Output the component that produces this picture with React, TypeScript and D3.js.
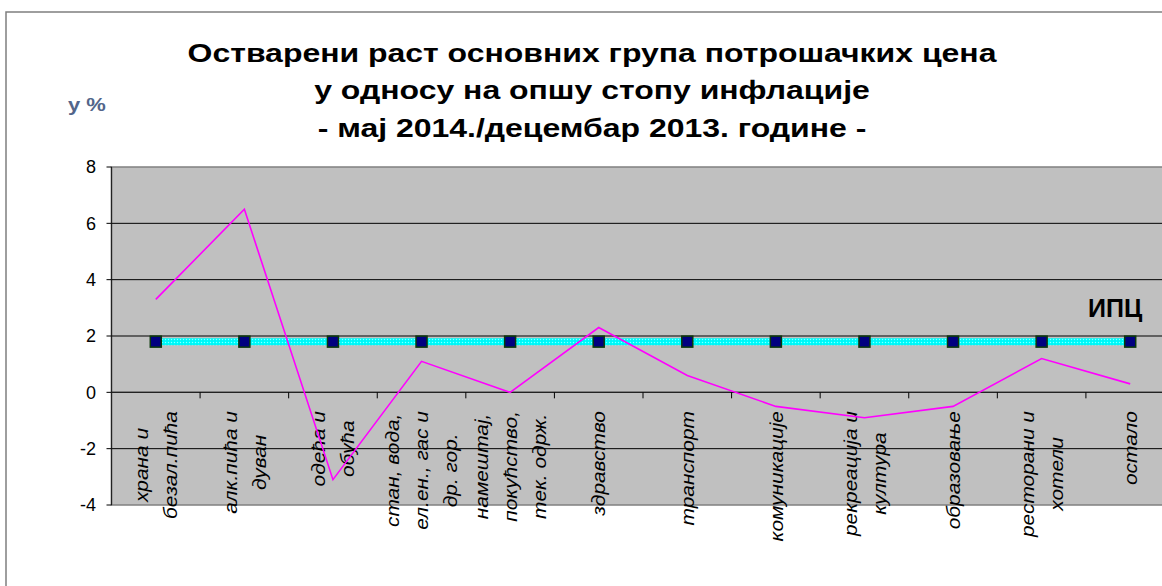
import React from "react";
import * as d3 from "d3";

const WIDTH = 1162;
const HEIGHT = 586;

// categories, each split into the lines shown under the axis
const categories = [
  ["храна и", "безал.пића"],
  ["алк.пића и", "дуван"],
  ["одећа и", "обућа"],
  ["стан, вода,", "ел.ен., гас и", "др. гор."],
  ["намештај,", "покућство,", "тек. одрж."],
  ["здравство"],
  ["транспорт"],
  ["комуникације"],
  ["рекреација и", "култура"],
  ["образовање"],
  ["ресторани и", "хотели"],
  ["остало"],
];
const growth = [3.3, 6.5, -3.1, 1.1, 0.0, 2.3, 0.6, -0.5, -0.9, -0.5, 1.2, 0.3];
const ipc = [1.8, 1.8, 1.8, 1.8, 1.8, 1.8, 1.8, 1.8, 1.8, 1.8, 1.8, 1.8];
const yTicks = [-4, -2, 0, 2, 4, 6, 8];
const titleLines = [
  "Остварени раст основних група потрошачких цена",
  "у односу на опшу стопу инфлације",
  "- мај 2014./децембар 2013. године -",
];

const PLOT = { left: 111.5, right: 1174.5, top: 167, bottom: 505 };
const LABEL_FONT = 19;
const LABEL_STRETCH = 1.1;
const TITLE_STRETCH = 1.23;

let measureCtx: CanvasRenderingContext2D | null = null;
const measure = (text: string, font: string) => {
  if (!measureCtx) measureCtx = document.createElement("canvas").getContext("2d");
  if (!measureCtx) return text.length * 10;
  measureCtx.font = font;
  return measureCtx.measureText(text).width;
};

export default function App() {
  const keys = categories.map((c) => c.join(" "));

  const x = d3.scaleBand<string>().domain(keys).range([PLOT.left, PLOT.right]).padding(0);
  const y = d3.scaleLinear().domain([-4, 8]).range([PLOT.bottom, PLOT.top]);
  const cx = (i: number) => (x(keys[i]) as number) + x.bandwidth() / 2;

  const line = d3
    .line<number>()
    .x((_, i) => cx(i))
    .y((d) => y(d));

  const labelFont = `italic ${LABEL_FONT}px 'Liberation Sans'`;

  return (
    <svg
      width={WIDTH}
      height={HEIGHT}
      style={{ position: "absolute", left: 0, top: 0, background: "#fff" }}
      fontFamily="'Liberation Sans', Arial, sans-serif"
    >
      <defs>
        <pattern id="ipcFill" width="3" height="3" patternUnits="userSpaceOnUse">
          <rect width="3" height="3" fill="#00FFFF" />
          <rect width="1" height="1" fill="#8CFFFF" />
          <rect x="1.5" y="1.5" width="1" height="1" fill="#00D8D8" />
        </pattern>
      </defs>

      {/* chart frame */}
      <path d={`M6,${HEIGHT} V12 H${WIDTH}`} fill="none" stroke="#7f7f7f" strokeWidth={1.5} />

      {/* title */}
      <g
        fontWeight="bold"
        fontSize={26}
        textAnchor="middle"
        fill="#000"
        transform={`translate(592,0) scale(${TITLE_STRETCH},1)`}
      >
        {titleLines.map((t, i) => (
          <text key={i} x={0} y={62 + i * 37.5}>
            {t}
          </text>
        ))}
      </g>
      <text x={0} y={0} fontSize={18} fontWeight="bold" fill="#52658a" transform="translate(68,111) scale(1.22,1)">
        у %
      </text>

      {/* plot area */}
      <rect
        x={PLOT.left}
        y={PLOT.top}
        width={PLOT.right - PLOT.left}
        height={PLOT.bottom - PLOT.top}
        fill="#c0c0c0"
        stroke="#808080"
        strokeWidth={1.5}
      />
      {yTicks
        .filter((t) => t !== -4 && t !== 8)
        .map((t) => (
          <line key={t} x1={PLOT.left} x2={PLOT.right} y1={y(t)} y2={y(t)} stroke="#000" strokeWidth={1} />
        ))}

      {/* y axis */}
      <line x1={PLOT.left} x2={PLOT.left} y1={PLOT.top} y2={PLOT.bottom} stroke="#222" strokeWidth={1.2} />
      {yTicks.map((t) => (
        <g key={t}>
          <line x1={PLOT.left - 5} x2={PLOT.left} y1={y(t)} y2={y(t)} stroke="#000" />
          <text x={96} y={y(t)} dy="0.35em" textAnchor="end" fontSize={18} fill="#000">
            {t}
          </text>
        </g>
      ))}

      {/* x axis at zero */}
      <line x1={PLOT.left} x2={PLOT.right} y1={y(0)} y2={y(0)} stroke="#222" strokeWidth={1.2} />
      {keys.map((k, i) =>
        i === 0 ? null : (
          <line key={k} x1={x(k) as number} x2={x(k) as number} y1={y(0)} y2={y(0) + 6} stroke="#000" />
        )
      )}

      {/* category labels, rotated */}
      <g fontSize={LABEL_FONT} fontStyle="italic" fill="#000" textAnchor="middle">
        {categories.map((lines, i) => {
          const maxLen = d3.max(lines, (l) => measure(l, labelFont)) as number;
          const top = 411;
          const cy = top + (maxLen * LABEL_STRETCH) / 2;
          return (
            <g key={i} transform={`translate(${cx(i)},${cy}) rotate(-90) scale(${LABEL_STRETCH},1)`}>
              {lines.map((l, j) => (
                <text key={j} x={0} y={(j - (lines.length - 1) / 2) * 29} dy="0.35em">
                  {l}
                </text>
              ))}
            </g>
          );
        })}
      </g>

      {/* ИПЦ line */}
      <path d={line(ipc) || ""} fill="none" stroke="url(#ipcFill)" strokeWidth={7} />
      {ipc.map((d, i) => (
        <rect
          key={i}
          x={cx(i) - 5.5}
          y={y(d) - 5.5}
          width={11}
          height={11}
          fill="#000080"
          stroke="#0b3a0b"
          strokeWidth={1.5}
        />
      ))}
      <text x={1088} y={317} fontSize={25} fontWeight="bold" fill="#000">
        ИПЦ
      </text>

      {/* growth line */}
      <path d={line(growth) || ""} fill="none" stroke="#ff00ff" strokeWidth={1.6} />
    </svg>
  );
}
